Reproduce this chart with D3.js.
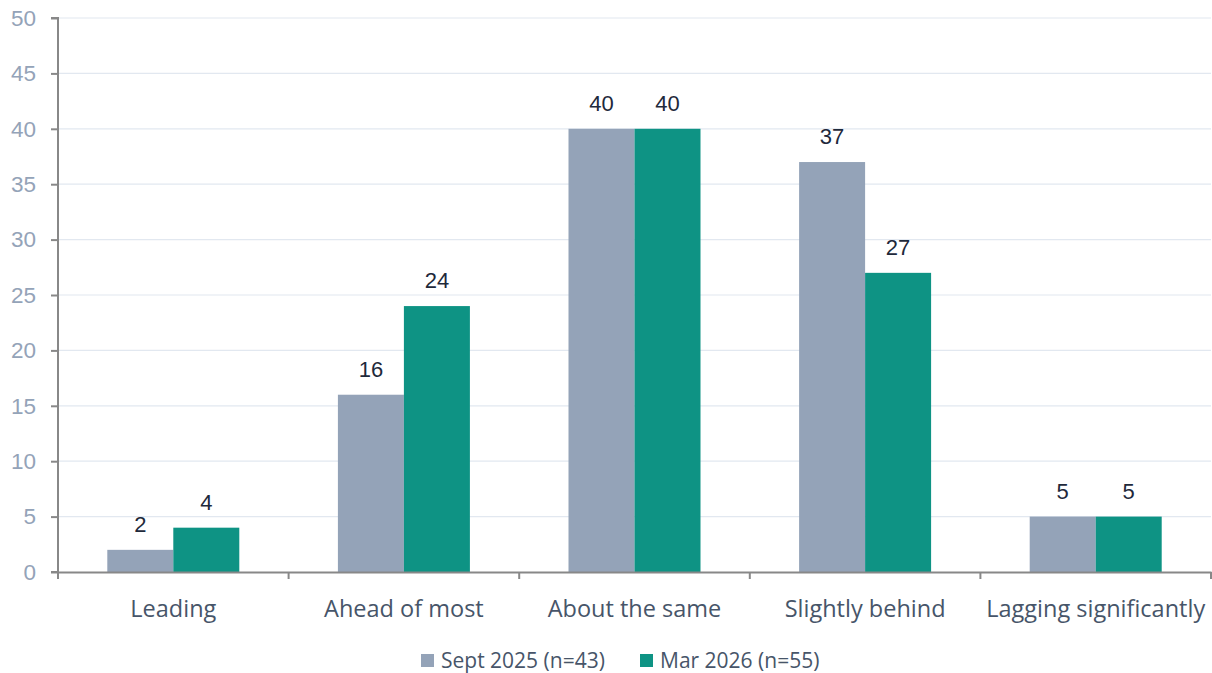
<!DOCTYPE html>
<html><head><meta charset="utf-8">
<script src="https://cdn.jsdelivr.net/npm/d3@7"></script>
<style>body{margin:0;background:#fff}svg{display:block}</style>
</head><body><svg id="c" width="1212" height="673"></svg>
<script>
const categories = ["Leading","Ahead of most","About the same","Slightly behind","Lagging significantly"];
const seriesNames = ["Sept 2025 (n=43)","Mar 2026 (n=55)"];
const sept2025 = [2,16,40,37,5];
const mar2026 = [4,24,40,27,5];
const yTicks = [0,5,10,15,20,25,30,35,40,45,50];
const colors = ["#94a3b8","#0e9384"];

const svg = d3.select("#c");
const L=58,R=1211,T=18,B=572;
const y = d3.scaleLinear().domain([0,50]).range([B,T]);
const x = d3.scaleBand().domain(categories).range([L,R]).padding(0);
const x1 = d3.scaleBand().domain(seriesNames).range([0,x.bandwidth()]).paddingInner(0).paddingOuter(0.747);

// grid
svg.append("g").selectAll("line").data(yTicks.filter(d=>d>0)).join("line")
 .attr("x1",L).attr("x2",R).attr("y1",d=>y(d)).attr("y2",d=>y(d))
 .attr("stroke","#e2e8f0").attr("stroke-width",1.2);

const data = categories.map((c,i)=>({c, vals:[sept2025[i],mar2026[i]]}));
const g = svg.append("g").selectAll("g").data(data).join("g").attr("transform",d=>`translate(${x(d.c)},0)`);
g.selectAll("rect").data(d=>d.vals.map((v,j)=>({s:seriesNames[j],v,j}))).join("rect")
 .attr("x",d=>x1(d.s)).attr("width",x1.bandwidth()).attr("y",d=>y(d.v)).attr("height",d=>B-y(d.v))
 .attr("fill",d=>colors[d.j]);
g.selectAll("text").data(d=>d.vals.map((v,j)=>({s:seriesNames[j],v,j}))).join("text")
 .attr("x",d=>x1(d.s)+x1.bandwidth()/2).attr("y",d=>y(d.v)-18)
 .attr("text-anchor","middle").attr("font-family","Liberation Sans, Arial, sans-serif").attr("font-size",22)
 .attr("fill","#1e293b").text(d=>d.v);

// y axis
const ya = svg.append("g").attr("transform",`translate(${L},0)`)
 .call(d3.axisLeft(y).tickValues(yTicks).tickSize(7).tickPadding(15));
ya.select(".domain").attr("stroke","#888").attr("stroke-width",2).attr("d",`M-7,${T}H0V${B}H-7`);
ya.selectAll(".tick line").attr("stroke","#888").attr("stroke-width",2);
ya.selectAll(".tick text").attr("font-family","Liberation Sans, Arial, sans-serif").attr("font-size",22.5).attr("fill","#94a3b8");

// x axis
const xa = svg.append("g").attr("transform",`translate(0,${B})`)
 .call(d3.axisBottom(x).tickSize(0).tickPadding(28));
xa.select(".domain").attr("stroke","#888").attr("stroke-width",2);
xa.selectAll(".tick text").attr("font-family","Open Sans, sans-serif").attr("font-size",23.5).attr("fill","#475569");
const bounds = d3.range(categories.length+1).map(i=>L+i*x.step());
svg.append("g").selectAll("line").data(bounds).join("line")
 .attr("x1",d=>d).attr("x2",d=>d).attr("y1",B).attr("y2",B+7).attr("stroke","#888").attr("stroke-width",2);

// legend
const leg = svg.append("g");
const lx = [421,640];
seriesNames.forEach((s,i)=>{
  leg.append("rect").attr("x",lx[i]).attr("y",654).attr("width",13).attr("height",13).attr("fill",colors[i]);
  leg.append("text").attr("x",lx[i]+20).attr("y",668).attr("font-family","Open Sans, sans-serif").attr("font-size",21).attr("fill","#475569").text(s);
});
</script></body></html>
